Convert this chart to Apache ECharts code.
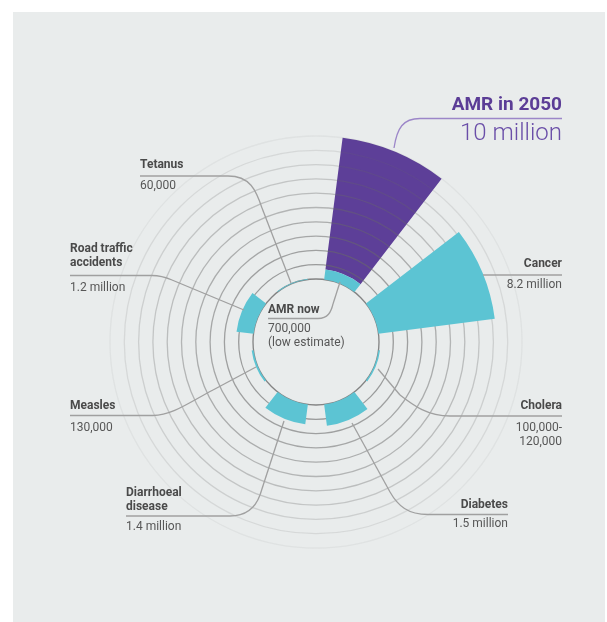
<!DOCTYPE html>
<html>
<head>
<meta charset="utf-8">
<script src="https://cdn.jsdelivr.net/npm/echarts@6/dist/echarts.min.js"></script>
<style>
  html, body { margin: 0; padding: 0; background: #ffffff; }
  #panel { position: absolute; left: 13px; top: 12px; width: 592px; height: 610px; background: #e9ecec; }
  #chart { position: absolute; left: 0; top: 0; width: 607px; height: 622px; }
</style>
</head>
<body>
<div id="panel"></div>
<div id="chart"></div>
<script>
// ---- data (deaths per year, millions) ----
const categories = ['AMR', 'Cancer', 'Cholera', 'Diabetes', 'Diarrhoeal disease', 'Measles', 'Road traffic accidents', 'Tetanus'];
const deathsNow = [0.7, 8.2, 0.11, 1.5, 1.4, 0.13, 1.2, 0.06];
const amr2050 = 10;
const radiusTicks = [0, 1, 2, 3, 4, 5, 6, 7, 8, 9, 10];

const labelNames = ['AMR now', 'Cancer', 'Cholera', 'Diabetes', 'Diarrhoeal\ndisease', 'Measles', 'Road traffic\naccidents', 'Tetanus'];
const labelValues = ['700,000\n(low estimate)', '8.2 million', '100,000-\n120,000', '1.5 million', '1.4 million', '130,000', '1.2 million', '60,000'];
const titleText = 'AMR in 2050';
const subtitleText = '10 million';

// ---- styles ----
const CYAN = '#5cc4d3';
const PURPLE = '#5d3f98';
const FONT = 'Roboto, "Open Sans", sans-serif';
const NAME_COLOR = '#4a4a4a';
const VALUE_COLOR = '#575757';
const LEAD = '#a0a0a0';

const purpleData = categories.map((c, i) => i === 0 ? +(amr2050 - deathsNow[0]).toFixed(2) : '-');

const ringColors = [0.8, 0.62, 0.58, 0.53, 0.48, 0.42, 0.36, 0.29, 0.22, 0.15, 0.07]
  .map(a => 'rgba(105,105,105,' + a + ')');

// annotation helpers
function txt(text, x, y, opt) {
  return {
    type: 'text', z: 50,
    style: Object.assign({
      text: text, x: x, y: y, font: (opt && opt.bold ? 'bold ' : '') + (opt && opt.size ? opt.size : 12) + 'px ' + FONT,
      fill: opt && opt.fill ? opt.fill : (opt && opt.bold ? NAME_COLOR : VALUE_COLOR),
      textAlign: opt && opt.align ? opt.align : 'left', textVerticalAlign: 'middle',
      lineHeight: 14
    }, opt && opt.style ? opt.style : {})
  };
}
function line(x1, y1, x2, y2, color) {
  return { type: 'line', z: 40, shape: { x1, y1, x2, y2 }, style: { stroke: color || LEAD, lineWidth: 1.3 } };
}
function curve(x1, y1, cx1, cy1, cx2, cy2, x2, y2, color) {
  return { type: 'bezierCurve', z: 40, shape: { x1, y1, cpx1: cx1, cpy1: cy1, cpx2: cx2, cpy2: cy2, x2, y2 },
    style: { stroke: color || LEAD, lineWidth: 1.3, fill: null } };
}

const graphics = [
  // AMR in 2050
  { type: 'text', z: 50, style: { text: titleText, x: 562, y: 105, font: 'bold 19px ' + FONT, fill: '#5b3d96', textAlign: 'right', textVerticalAlign: 'middle' } },
  { type: 'text', z: 50, style: { text: subtitleText, x: 562, y: 134, font: '300 24px ' + FONT, fill: '#6a4ea8', textAlign: 'right', textVerticalAlign: 'middle' } },
  line(420, 118.5, 562, 118.5, '#9c86c8'),
  curve(420, 118.5, 403, 118.5, 397, 128, 394, 148, '#9c86c8'),

  // Tetanus
  txt(labelNames[7], 140, 165, { bold: true }),
  txt(labelValues[7], 140, 186),
  line(140, 176, 228, 176),
  curve(228, 176, 250, 176, 256, 190, 262, 208),
  line(262, 208, 291, 283),

  // Road traffic
  txt(labelNames[6], 70, 255.5, { bold: true }),
  txt(labelValues[6], 70, 288),
  line(70, 275.5, 152, 275.5),
  curve(152, 275.5, 160, 275.5, 165, 277, 172, 280),
  line(172, 280, 244, 310),

  // Measles
  txt(labelNames[5], 70, 406, { bold: true }),
  txt(labelValues[5], 70, 428),
  line(70, 415.5, 153, 415.5),
  curve(153, 415.5, 172, 415.5, 190, 402, 213, 390),
  line(213, 390, 256, 367),

  // Diarrhoeal
  txt(labelNames[4], 126, 499.5, { bold: true }),
  txt(labelValues[4], 126, 527),
  line(126, 516, 230, 516),
  curve(230, 516, 248, 516, 256, 506, 260, 495),
  line(260, 495, 284, 421),

  // Diabetes
  txt(labelNames[3], 508, 505, { bold: true, align: 'right' }),
  txt(labelValues[3], 508, 524, { align: 'right' }),
  line(508, 514.5, 428, 514.5),
  curve(428, 514.5, 408, 514.5, 398, 506, 390, 492),
  line(390, 492, 352, 423),

  // Cancer
  txt(labelNames[1], 562, 264, { bold: true, align: 'right' }),
  txt(labelValues[1], 562, 285, { align: 'right' }),
  line(483, 275, 562, 275),

  // Cholera
  txt(labelNames[2], 562, 406, { bold: true, align: 'right' }),
  txt(labelValues[2], 562, 435, { align: 'right' }),
  line(562, 416, 450, 416),
  curve(450, 416, 428, 416, 414, 406, 400, 395),
  line(400, 395, 378, 369),

  // AMR now
  txt(labelNames[0], 268, 310, { bold: true }),
  txt(labelValues[0], 268, 336),
  line(268, 318.5, 318, 318.5),
  curve(318, 318.5, 328, 318.5, 331, 312, 333, 304),
  line(333, 304, 340, 282)
];

const chart = echarts.init(document.getElementById('chart'), null, { renderer: 'canvas' });
chart.setOption({
  backgroundColor: 'transparent',
  animation: false,
  polar: { center: [316, 342], radius: [63, 206] },
  angleAxis: {
    type: 'category', data: categories, startAngle: 90, clockwise: true, boundaryGap: true,
    axisLine: { show: false }, axisTick: { show: false }, axisLabel: { show: false }, splitLine: { show: false }
  },
  radiusAxis: {
    type: 'value', min: radiusTicks[0], max: radiusTicks[radiusTicks.length - 1], interval: 1, z: 5,
    axisLine: { show: false }, axisTick: { show: false }, axisLabel: { show: false },
    splitLine: { show: true, lineStyle: { color: ringColors, width: 1.3 } }
  },
  series: [
    { type: 'bar', coordinateSystem: 'polar', stack: 'deaths', data: deathsNow, barWidth: '67%',
      itemStyle: { color: CYAN }, z: 10, silent: true },
    { type: 'bar', coordinateSystem: 'polar', stack: 'deaths', data: purpleData, barWidth: '67%',
      itemStyle: { color: PURPLE }, z: 1, silent: true }
  ],
  graphic: graphics
});
</script>
</body>
</html>
